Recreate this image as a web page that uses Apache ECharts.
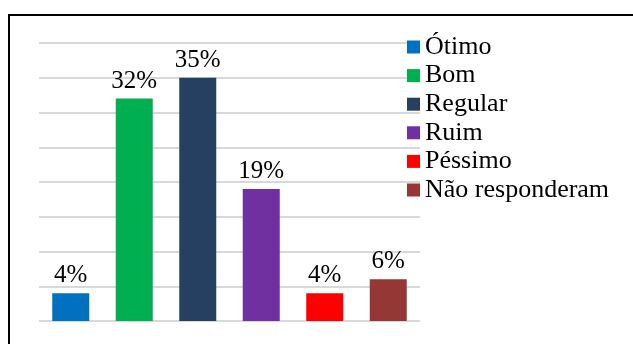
<!DOCTYPE html>
<html>
<head>
<meta charset="utf-8">
<script src="https://cdn.jsdelivr.net/npm/echarts@6/dist/echarts.min.js"></script>
<style>
html,body{margin:0;padding:0;background:#fff;}
#chart{width:633px;height:344px;}
</style>
</head>
<body>
<div id="chart"></div>
<script>
var categories = ['Ótimo', 'Bom', 'Regular', 'Ruim', 'Péssimo', 'Não responderam'];
var values = [4, 32, 35, 19, 4, 6];
var colors = ['#0070c0', '#00b050', '#264061', '#7030a0', '#ff0000', '#953735'];
var yTicks = [0, 5, 10, 15, 20, 25, 30, 35, 40];

var FONT = 'Liberation Serif';
var series = categories.map(function (name, i) {
  return {
    name: name,
    type: 'bar',
    stack: 'all',
    barWidth: 37,
    itemStyle: { color: colors[i] },
    label: {
      show: true,
      position: 'top',
      distance: 5,
      formatter: '{c}%',
      fontFamily: FONT,
      fontSize: 25,
      color: '#000'
    },
    data: categories.map(function (c, j) { return j === i ? values[i] : '-'; })
  };
});

var chart = echarts.init(document.getElementById('chart'));
chart.setOption({
  animation: false,
  backgroundColor: '#fff',
  grid: { left: 39, right: 213, top: 43, bottom: 23 },
  xAxis: {
    type: 'category',
    data: categories,
    axisLine: { show: false },
    axisTick: { show: false },
    axisLabel: { show: false }
  },
  yAxis: {
    type: 'value',
    min: yTicks[0],
    max: yTicks[yTicks.length - 1],
    interval: yTicks[1] - yTicks[0],
    axisLine: { show: false },
    axisTick: { show: false },
    axisLabel: { show: false },
    splitLine: { lineStyle: { color: '#d9d9d9', width: 2 } }
  },
  legend: {
    orient: 'vertical',
    left: 407,
    top: 34,
    padding: 0,
    itemWidth: 13,
    itemHeight: 13,
    itemGap: 2.6,
    icon: 'rect',
    data: categories,
    textStyle: { fontFamily: FONT, fontSize: 26, color: '#000', lineHeight: 26 }
  },
  graphic: [{
    type: 'polyline',
    z: 100,
    shape: { points: [[9, 344], [9, 15], [633, 15]] },
    style: { stroke: '#000', lineWidth: 2, fill: null }
  }],
  series: series
});
</script>
</body>
</html>
